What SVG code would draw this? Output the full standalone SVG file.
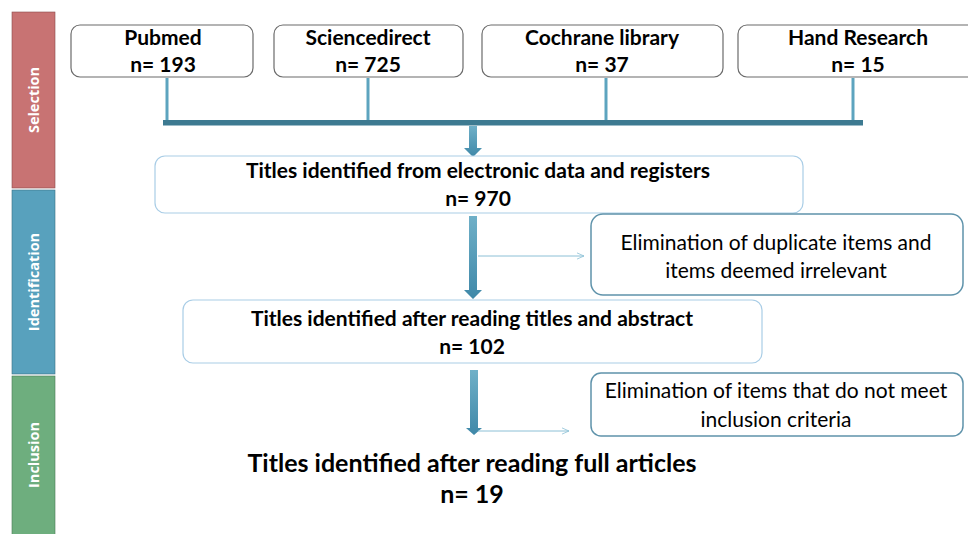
<svg xmlns="http://www.w3.org/2000/svg" width="968" height="534" viewBox="0 0 968 534">
<defs>
<style>
.src{fill:#fff;stroke:#6b6b6b;stroke-width:1.2}
.main{fill:#fff;stroke:#a9cde6;stroke-width:1.2}
.elim{fill:#fff;stroke:#5f93ab;stroke-width:1.5}
.b{font-family:Lato,"Open Sans",sans-serif;font-weight:bold;fill:#000;text-anchor:middle}
.r{font-family:Lato,"Open Sans",sans-serif;fill:#000;text-anchor:middle;font-size:21px}
.side{font-family:"Open Sans",sans-serif;font-weight:bold;fill:#fff;text-anchor:middle;font-size:14.5px}
.feed{stroke:#5da4bf;stroke-width:3;fill:none}
.thin{stroke:#8cc0d6;stroke-width:1;fill:none}
</style>
<linearGradient id="g" x1="0" y1="0" x2="0" y2="1">
<stop offset="0" stop-color="#6fb0c8"/>
<stop offset="1" stop-color="#3f88a8"/>
</linearGradient>
<marker id="open" viewBox="0 0 10 10" refX="9" refY="5" markerWidth="8" markerHeight="8" orient="auto" markerUnits="userSpaceOnUse">
<path d="M0,1 L9,5 L0,9" fill="none" stroke="#8cc0d6" stroke-width="1"/>
</marker>
</defs>

<g id="phase-selection">
<rect x="12" y="12" width="43" height="176" fill="#c87373" stroke="#8a4c4c" stroke-width="0.6"/>
<text class="side" transform="translate(39,100) rotate(-90)">Selection</text>
</g>
<g id="phase-identification">
<rect x="12" y="190" width="43" height="184" fill="#58a1bd" stroke="#3b6f83" stroke-width="0.6"/>
<text class="side" transform="translate(39,282) rotate(-90)">Identification</text>
</g>
<g id="phase-inclusion">
<rect x="12" y="376" width="43" height="160" fill="#6eae7e" stroke="#4a7a56" stroke-width="0.6"/>
<text class="side" transform="translate(39,455) rotate(-90)">Inclusion</text>
</g>

<g id="connectors">
<line class="feed" x1="167" y1="78" x2="167" y2="121"/>
<line class="feed" x1="368" y1="78" x2="368" y2="121"/>
<line class="feed" x1="606" y1="78" x2="606" y2="121"/>
<line class="feed" x1="853" y1="78" x2="853" y2="121"/>
<rect x="163" y="120" width="700" height="5.5" fill="#3d7a91"/>
<path d="M469,126 h8 v22 h5 l-9,9 l-9,-9 h5 z" fill="url(#g)"/>
<path d="M469,216 h8 v74 h5 l-9,9 l-9,-9 h5 z" fill="url(#g)"/>
<path d="M470,370 h8 v58 h4 l-8,7 l-8,-7 h4 z" fill="url(#g)"/>
<line class="thin" x1="478" y1="256" x2="584" y2="256" marker-end="url(#open)"/>
<line class="thin" x1="478" y1="431" x2="569" y2="431" marker-end="url(#open)"/>
</g>

<g id="pubmed">
<rect class="src" x="71" y="25" width="182" height="52" rx="9"/>
<text class="b" x="163" y="45" font-size="21">Pubmed</text>
<text class="b" x="163" y="72" font-size="21">n= 193</text>
</g>
<g id="sciencedirect">
<rect class="src" x="274" y="25" width="189" height="52" rx="9"/>
<text class="b" x="368" y="45" font-size="21">Sciencedirect</text>
<text class="b" x="368" y="72" font-size="21">n= 725</text>
</g>
<g id="cochrane">
<rect class="src" x="482" y="25" width="241" height="52" rx="9"/>
<text class="b" x="602" y="45" font-size="21">Cochrane library</text>
<text class="b" x="602" y="72" font-size="21">n= 37</text>
</g>
<g id="hand">
<rect class="src" x="738" y="25" width="240" height="52" rx="9"/>
<text class="b" x="858" y="45" font-size="21">Hand Research</text>
<text class="b" x="858" y="72" font-size="21">n= 15</text>
</g>

<g id="titles-electronic">
<rect class="main" x="155" y="156" width="648" height="57" rx="10"/>
<text class="b" x="478" y="178" font-size="21">Titles identified from electronic data and registers</text>
<text class="b" x="478" y="206" font-size="21">n= 970</text>
</g>
<g id="elim-duplicates">
<rect class="elim" x="591" y="214" width="372" height="81" rx="12"/>
<text class="r" x="776" y="250">Elimination of duplicate items and</text>
<text class="r" x="776" y="278">items deemed irrelevant</text>
</g>
<g id="titles-abstract">
<rect class="main" x="183" y="300" width="579" height="63" rx="10"/>
<text class="b" x="472" y="326" font-size="21">Titles identified after reading titles and abstract</text>
<text class="b" x="472" y="354" font-size="21">n= 102</text>
</g>
<g id="elim-criteria">
<rect class="elim" x="591" y="373" width="372" height="63" rx="10"/>
<text class="r" x="776" y="398">Elimination of items that do not meet</text>
<text class="r" x="776" y="427">inclusion criteria</text>
</g>
<g id="titles-full">
<text class="b" x="472" y="472" font-size="25">Titles identified after reading full articles</text>
<text class="b" x="472" y="503" font-size="25">n= 19</text>
</g>
</svg>
